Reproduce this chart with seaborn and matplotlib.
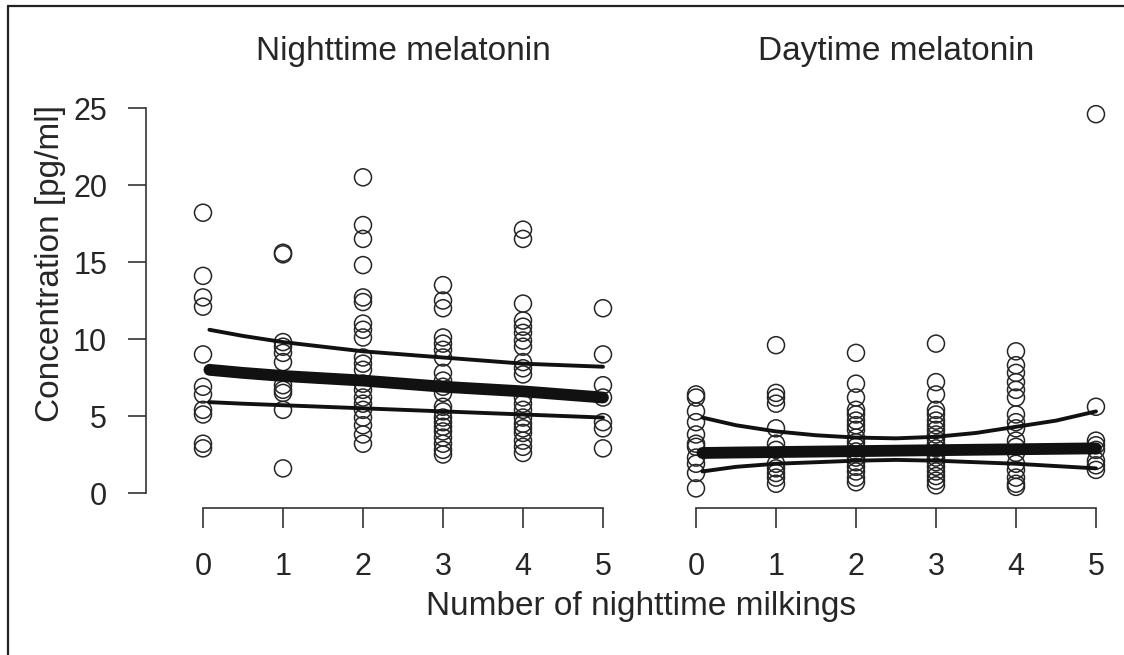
import numpy as np
import pandas as pd
import matplotlib
matplotlib.use('Agg')
import matplotlib.pyplot as plt
from matplotlib.lines import Line2D
from matplotlib.patches import Rectangle
import seaborn as sns

# night-time melatonin, values per number of nighttime milkings
night_0 = [18.2, 14.1, 12.7, 12.1, 9.0, 6.9, 6.4, 5.4, 5.1, 3.2, 2.9]
night_1 = [15.6, 15.5, 9.8, 9.5, 9.1, 8.5, 7.0, 6.7, 6.5, 5.4, 1.6]
night_2 = [20.5, 17.4, 16.5, 14.8, 12.7, 12.4, 11.0, 10.6, 10.1, 8.8, 8.4, 8.0,
           7.1, 6.7, 6.2, 5.8, 5.4, 4.9, 4.4, 3.8, 3.2]
night_3 = [13.5, 12.5, 12.0, 10.1, 9.7, 9.3, 8.8, 7.8, 7.3, 6.9, 6.5, 5.6, 5.3,
           4.9, 4.6, 4.3, 4.0, 3.6, 3.2, 2.8, 2.5]
night_4 = [17.1, 16.5, 12.3, 11.2, 10.8, 10.4, 9.9, 9.5, 8.5, 8.1, 7.7, 6.2, 5.8,
           5.4, 4.9, 4.5, 4.2, 3.9, 3.4, 3.0, 2.6]
night_5 = [12.0, 9.0, 7.0, 6.2, 4.6, 4.2, 2.9]

# day-time melatonin
day_0 = [6.4, 6.2, 5.3, 4.6, 3.8, 3.2, 3.0, 2.3, 1.9, 1.3, 0.3]
day_1 = [9.6, 6.5, 6.2, 5.8, 4.2, 3.2, 2.8, 1.9, 1.6, 1.3, 1.0, 0.6]
day_2 = [9.1, 7.1, 6.2, 5.4, 5.1, 4.7, 4.4, 4.1, 3.6, 3.3, 3.0, 2.7, 2.3, 2.0,
         1.7, 1.4, 1.0, 0.7]
day_3 = [9.7, 7.2, 6.4, 5.4, 5.1, 4.7, 4.4, 4.1, 3.8, 3.5, 3.2, 2.9, 2.6, 2.3,
         2.0, 1.7, 1.4, 1.1, 0.8, 0.5]
day_4 = [9.2, 8.3, 7.8, 7.2, 6.7, 6.2, 5.1, 4.6, 4.2, 3.4, 3.0, 2.6, 1.9, 1.5,
         1.0, 0.6, 0.4]
day_5 = [24.6, 5.6, 3.4, 3.1, 2.8, 2.1, 1.8, 1.5]

# fitted curve + confidence band
fit_x = [0.08, 0.5, 1, 1.5, 2, 2.5, 3, 3.5, 4, 4.5, 5]
night_fit = [8.0, 7.8, 7.6, 7.45, 7.3, 7.1, 6.9, 6.75, 6.6, 6.4, 6.2]
night_hi = [10.6, 10.2, 9.8, 9.5, 9.2, 9.0, 8.8, 8.6, 8.4, 8.3, 8.2]
night_lo = [5.9, 5.8, 5.7, 5.6, 5.5, 5.4, 5.3, 5.2, 5.1, 5.0, 4.9]
day_fit = [2.6, 2.63, 2.66, 2.69, 2.72, 2.75, 2.78, 2.81, 2.84, 2.87, 2.9]
day_hi = [4.9, 4.4, 4.0, 3.75, 3.6, 3.55, 3.65, 3.9, 4.3, 4.7, 5.3]
day_lo = [1.4, 1.7, 1.9, 2.0, 2.1, 2.15, 2.1, 2.0, 1.9, 1.75, 1.6]


def to_frame(groups):
    rows = []
    for k, vals in enumerate(groups):
        for v in vals:
            rows.append((k, v))
    return pd.DataFrame(rows, columns=['milkings', 'conc'])


night = to_frame([night_0, night_1, night_2, night_3, night_4, night_5])
day = to_frame([day_0, day_1, day_2, day_3, day_4, day_5])

sns.set_style('white')
plt.rcParams['font.family'] = ['Liberation Sans', 'DejaVu Sans']
fs = 24
tfs = 22

fig = plt.figure(figsize=(11.24, 6.55), dpi=100)
ax1 = fig.add_axes([0.1299, 0.2238, 0.4208, 0.6348])
ax2 = fig.add_axes([0.6050, 0.2238, 0.3843, 0.6348])

for ax, df, fit, hi, lo, title in [
        (ax1, night, night_fit, night_hi, night_lo, 'Nighttime melatonin'),
        (ax2, day, day_fit, day_hi, day_lo, 'Daytime melatonin')]:
    sns.scatterplot(data=df, x='milkings', y='conc', ax=ax, marker='o', s=150,
                    facecolors='none', edgecolor='#262626', linewidth=1.1,
                    zorder=2)
    sns.lineplot(x=fit_x, y=fit, ax=ax, color='#111111', lw=8.5,
                 solid_capstyle='round', zorder=3)
    sns.lineplot(x=fit_x, y=hi, ax=ax, color='#111111', lw=2.8, zorder=3)
    sns.lineplot(x=fit_x, y=lo, ax=ax, color='#111111', lw=2.8, zorder=3)
    ax.set_ylim(-1, 26)
    ax.set_xlabel('')
    ax.set_ylabel('')
    ax.text(2.5, 1.0 + 41 / 415.6, title, transform=ax.get_xaxis_transform(),
            ha='center', va='center', fontsize=fs)
    ax.set_xticks(range(6))
    ax.spines['bottom'].set_bounds(0, 5)
    ax.spines['top'].set_visible(False)
    ax.spines['right'].set_visible(False)
    ax.tick_params(axis='x', direction='out', length=14.4, width=1.2,
                   pad=17, labelsize=tfs, color='#333333', bottom=True)
    for sp in ax.spines.values():
        sp.set_color('#333333')
        sp.set_linewidth(1.2)

ax1.set_xlim(-0.7125, 5.2)
ax2.set_xlim(-0.2, 5.2)
ax1.set_yticks([0, 5, 10, 15, 20, 25])
ax1.spines['left'].set_bounds(0, 25)
ax1.tick_params(axis='y', direction='out', length=13, width=1.2, pad=15,
                labelsize=tfs, color='#333333', left=True)
ax2.spines['left'].set_visible(False)
ax2.set_yticks([])

fig.text(50 / 1124, 1 - 263 / 655, 'Concentration [pg/ml]', rotation=90,
         ha='center', va='center', fontsize=fs)
fig.text(641 / 1124, 1 - 607 / 655, 'Number of nighttime milkings',
         ha='center', va='center', fontsize=fs)

# page frame: only the left and top edges are visible
fx, fy = 8 / 1124, 1 - 6 / 655
fig.add_artist(Line2D([fx, fx], [0, fy], transform=fig.transFigure,
                      color='#222222', lw=1.6))
fig.add_artist(Line2D([fx, 1.01], [fy, fy], transform=fig.transFigure,
                      color='#222222', lw=1.6))
# keep the right margin blank
fig.add_artist(Rectangle((0.993, 0), 0.01, fy - 0.004,
                         transform=fig.transFigure, facecolor='white',
                         edgecolor='none', zorder=10))

fig.savefig('out.png', dpi=100)
